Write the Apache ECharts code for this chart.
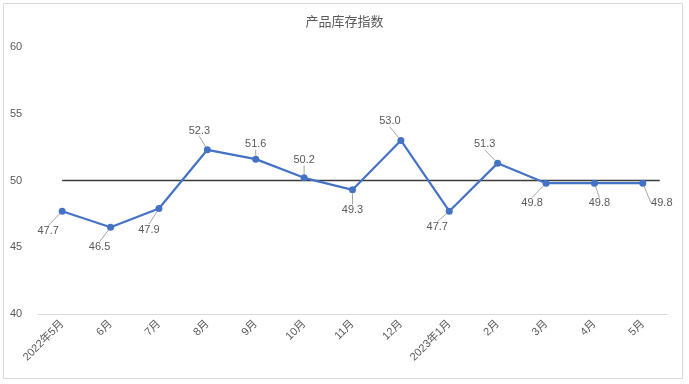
<!DOCTYPE html>
<html>
<head>
<meta charset="utf-8">
<script src="https://cdn.jsdelivr.net/npm/echarts@6/dist/echarts.min.js"></script>
<style>
html,body{margin:0;padding:0;background:#fff;}
#c{width:689px;height:384px;}
</style>
</head>
<body>
<div id="c"></div>
<script>
const categories = ['2022年5月','6月','7月','8月','9月','10月','11月','12月','2023年1月','2月','3月','4月','5月'];
const indexValues = [47.7, 46.5, 47.9, 52.3, 51.6, 50.2, 49.3, 53.0, 47.7, 51.3, 49.8, 49.8, 49.8];
const referenceValue = 50;
const yTicks = [40, 45, 50, 55, 60];

// label placement offsets (style only)
const labelOffsets = [[-14,20],[-11,20],[-10,21],[-8,-19],[0,-15],[0,-18],[0,20],[-11,-19],[-12,16],[-13,-19],[-14,20],[5,20],[19,20]];

const chart = echarts.init(document.getElementById('c'));
const txt = '#595959';
const font = '"Liberation Sans", "Noto Sans CJK SC", sans-serif';

chart.setOption({
  animation: false,
  backgroundColor: '#fff',
  title: {
    text: '产品库存指数',
    left: 'center',
    top: 11,
    textStyle: {color: txt, fontSize: 13, fontWeight: 'normal', fontFamily: font}
  },
  graphic: [{
    type: 'rect',
    shape: {x: 3.5, y: 3.5, width: 679, height: 375},
    style: {fill: 'none', stroke: '#d9d9d9', lineWidth: 1},
    silent: true
  }],
  grid: {left: 38, right: 22, top: 47, bottom: 70, containLabel: false, outerBoundsMode: 'none'},
  xAxis: [{
    type: 'category',
    data: categories,
    boundaryGap: true,
    axisLine: {show: true, onZero: false, lineStyle: {color: '#d9d9d9', width: 1}},
    axisTick: {show: false},
    axisLabel: {color: txt, fontSize: 11, rotate: 45, interval: 0, margin: 8, fontFamily: font}
  }, {
    type: 'value',
    min: -0.5,
    max: categories.length - 0.5,
    show: false
  }],
  yAxis: {
    type: 'value',
    min: yTicks[0],
    max: yTicks[yTicks.length - 1],
    interval: 5,
    splitLine: {show: false},
    axisLine: {show: false},
    axisTick: {show: false},
    axisLabel: {color: txt, fontSize: 11, margin: 28, align: 'left', fontFamily: font}
  },
  series: [{
    type: 'line',
    xAxisIndex: 1,
    data: [[0, referenceValue], [categories.length - 1 + 0.35, referenceValue]],
    symbol: 'none',
    lineStyle: {color: '#3a3a3a', width: 1.3},
    silent: true,
    z: 1
  }, {
    type: 'line',
    xAxisIndex: 0,
    data: indexValues,
    symbol: 'circle',
    symbolSize: 7,
    itemStyle: {color: '#4472C4'},
    lineStyle: {color: '#4472C4', width: 2.2},
    z: 3,
    label: {
      show: true,
      position: 'inside',
      color: txt,
      fontSize: 11,
      fontFamily: font,
      formatter: p => p.value.toFixed(1)
    },
    labelLine: {show: true, lineStyle: {color: '#a6a6a6', width: 1}},
    labelLayout: function (p) {
      const o = labelOffsets[p.dataIndex];
      return {dx: o[0], dy: o[1]};
    }
  }]
});
</script>
</body>
</html>
